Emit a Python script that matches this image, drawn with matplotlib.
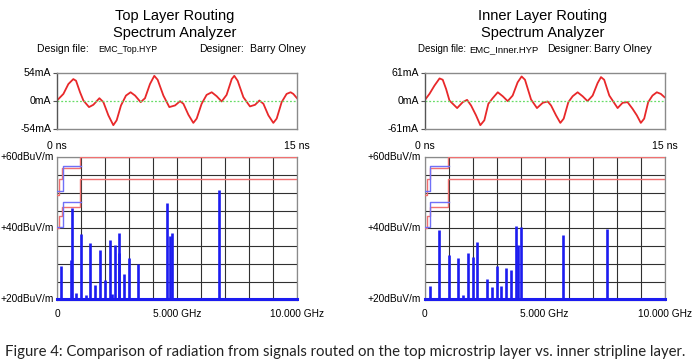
import matplotlib
matplotlib.use("Agg")
import matplotlib.pyplot as plt
import numpy as np

# ---------------- data ----------------
top_t = [0, 0.40, 0.71, 1.02, 1.19, 1.44, 1.65, 2.00, 2.27, 2.65, 2.90, 3.21, 3.52, 3.73, 4.00,
         4.31, 4.60, 4.88, 5.23, 5.50, 5.81, 6.08, 6.29, 6.65, 7.02, 7.38, 7.69, 7.90, 8.21,
         8.52, 8.73, 9.04, 9.35, 9.67, 9.98, 10.29, 10.60, 10.92, 11.08, 11.29, 11.65, 12.06,
         12.38, 12.65, 12.90, 13.21, 13.52, 13.73, 14.04, 14.35, 14.60, 14.77, 15.0]
top_i = [0, 12.7, 31.7, 41.3, 38.1, 15.9, 0, -12.7, -8.3, 4.4, -3.2, -28.6, -47.6, -38.1, -9.5,
         9.5, 15.9, 9.5, -3.2, 4.4, 31.7, 47.6, 40.0, 9.5, -12.7, -9.5, -1.3, -6.3, -27.3,
         -43.2, -34.9, -6.3, 10.8, 15.9, 8.3, -1.9, 10.8, 41.3, 47.6, 38.1, 6.3, -11.4,
         -8.3, 0, -6.3, -28.6, -43.2, -34.9, -3.2, 12.7, 15.9, 12.7, 4.4]

inner_t = [0, 0.31, 0.62, 0.94, 1.14, 1.35, 1.56, 2.04, 2.39, 2.66, 2.91, 3.22, 3.49, 3.74, 3.99,
           4.26, 4.58, 4.89, 5.20, 5.51, 5.82, 6.07, 6.28, 6.66, 7.03, 7.39, 7.70, 7.91, 8.22,
           8.49, 8.70, 8.99, 9.26, 9.57, 9.88, 10.19, 10.51, 10.82, 11.03, 11.23, 11.55, 12.07,
           12.38, 12.69, 13.0, 13.27, 13.52, 13.73, 13.98, 14.25, 14.52, 14.77, 15.0]
inner_i = [0, 14.4, 32.3, 48.1, 45.2, 25.1, 0, -16.5, -3.6, 1.4, -10.8, -32.3, -53.8, -43.1, -7.2,
           5.0, 17.9, 9.3, -1.4, 10.8, 39.5, 52.4, 45.2, 2.2, -16.5, -5.0, -2.2, -10.8, -32.3,
           -48.8, -39.5, -3.6, 9.3, 17.9, 9.3, -1.4, 10.8, 38.0, 51.0, 45.2, 10.8, -16.5,
           -5.0, -3.6, -17.9, -32.3, -48.8, -39.5, -3.6, 10.8, 17.9, 14.4, 7.2]

top_f = [0.18, 0.57, 0.61, 0.79, 0.99, 1.20, 1.39, 1.59, 1.78, 1.99, 2.19, 2.30, 2.40, 2.57,
         2.59, 2.79, 2.99, 3.38, 4.58, 4.69, 4.78, 6.77]
top_db = [29.3, 31.1, 45.8, 21.8, 38.5, 21.4, 35.8, 24.2, 34.0, 25.5, 36.6, 21.6, 35.4, 33.2,
          38.8, 27.2, 31.6, 29.9, 47.2, 37.8, 38.6, 50.9]

inner_f = [0.22, 0.61, 1.01, 1.41, 1.61, 1.80, 2.00, 2.19, 2.61, 2.80, 3.01, 3.20, 3.40, 3.61,
           3.80, 3.88, 4.01, 5.77, 7.59]
inner_db = [23.9, 39.6, 32.5, 31.6, 21.3, 33.1, 31.9, 36.3, 25.8, 23.5, 29.5, 23.7, 29.0, 28.2,
            40.8, 35.2, 40.4, 38.2, 39.9]

# limit lines (GHz, dBuV/m)
lim_f = [0.0, 0.088, 0.088, 0.216, 0.216, 0.96, 0.96, 10.0]
fcc_a = [49.5, 49.5, 54.0, 54.0, 56.9, 56.9, 60.0, 60.0]
fcc_b = [40.0, 40.0, 43.5, 43.5, 46.0, 46.0, 54.0, 54.0]
cis_f = [0.0, 0.23, 0.23, 1.0]
cis_a = [50.5, 50.5, 57.5, 57.5]
cis_b = [40.5, 40.5, 47.5, 47.5]

panels = [
    dict(title="Top Layer Routing", t=top_t, i=top_i, imax=54, f=top_f, db=top_db,
         x0=57, design="EMC_Top.HYP"),
    dict(title="Inner Layer Routing", t=inner_t, i=inner_i, imax=61, f=inner_f, db=inner_db,
         x0=424.5, design="EMC_Inner.HYP"),
]

W, H = 700, 363
fig = plt.figure(figsize=(7.0, 3.63), dpi=100)
plt.rcParams['font.family'] = ['Liberation Sans', 'DejaVu Sans']

def ax_px(x, y, w, h):
    return fig.add_axes([x / W, 1 - (y + h) / H, w / W, h / H])

RED = '#e8282a'
BLUE = '#1c1cf0'
GRAY = '#8a8a8a'

for k, p in enumerate(panels):
    x0 = p['x0']
    pw = 240
    cx = x0 + pw / 2 - 2
    # titles
    fig.text(cx / W, 1 - 16 / H, p['title'], ha='center', va='center', fontsize=10.5)
    fig.text(cx / W, 1 - 33 / H, "Spectrum Analyzer", ha='center', va='center', fontsize=10.5)
    if k == 0:
        fig.text(37 / W, 1 - 49.5 / H, "Design file:", ha='left', va='center', fontsize=7.5)
        fig.text(98 / W, 1 - 49.5 / H, p['design'], ha='left', va='center', fontsize=6.3)
        fig.text(199 / W, 1 - 49.5 / H, "Designer:", ha='left', va='center', fontsize=7.5)
        fig.text(250 / W, 1 - 49.5 / H, "Barry Olney", ha='left', va='center', fontsize=7.6)
    else:
        fig.text(418 / W, 1 - 49.5 / H, "Design file:", ha='left', va='center', fontsize=7.0)
        fig.text(469 / W, 1 - 49.5 / H, p['design'], ha='left', va='center', fontsize=6.8)
        fig.text(547 / W, 1 - 49.5 / H, "Designer:", ha='left', va='center', fontsize=7.5)
        fig.text(594 / W, 1 - 49.5 / H, "Barry Olney", ha='left', va='center', fontsize=7.8)

    # time domain
    at = ax_px(x0, 72.5, pw, 56)
    at.plot(p['t'], p['i'], color=RED, lw=1.3)
    at.axhline(0, color='#66dd66', lw=0.9, ls=(0, (1.5, 1.5)))
    at.set_xlim(0, 15)
    at.set_ylim(-p['imax'], p['imax'])
    at.set_yticks([p['imax'], 0, -p['imax']])
    at.set_yticklabels([f"{p['imax']}mA", "0mA", f"-{p['imax']}mA"], fontsize=7.6)
    at.set_xticks([])
    for s in at.spines.values():
        s.set_color(GRAY)
        s.set_linewidth(1.0)
    at.spines['left'].set_color('#555555')
    at.tick_params(axis='y', length=3, width=0.8, color='#555555', pad=1)
    at.text(0, -0.22, "0 ns", transform=at.transAxes, ha='center', va='top', fontsize=7.6)
    at.text(1, -0.22, "15 ns", transform=at.transAxes, ha='center', va='top', fontsize=7.6)

    # spectrum
    asp = ax_px(x0, 157.3, pw, 142.2)
    asp.set_xlim(0, 10)
    asp.set_ylim(20, 60)
    asp.set_xticks(np.arange(0, 11, 1))
    asp.set_yticks(np.arange(20, 61, 5))
    asp.grid(True, color='#303030', lw=0.8)
    asp.set_axisbelow(True)
    asp.tick_params(axis='both', length=0, labelbottom=False, labelleft=False)
    for s in asp.spines.values():
        s.set_color(GRAY)
        s.set_linewidth(0.9)
    asp.plot(lim_f, fcc_a, color='#f07070', lw=1.0, zorder=3)
    asp.plot(lim_f, fcc_b, color='#f07070', lw=1.0, zorder=3)
    asp.plot(cis_f, cis_a, color='#7070f8', lw=1.0, zorder=3)
    asp.plot(cis_f, cis_b, color='#7070f8', lw=1.0, zorder=3)
    asp.vlines(p['f'], 20, p['db'], color=BLUE, lw=1.9, zorder=4)
    asp.axhline(20.25, color=BLUE, lw=2.2, zorder=4, clip_on=False)
    for v in (60, 40, 20):
        asp.text(-0.015, (v - 20) / 40, f"+{v}dBuV/m", transform=asp.transAxes,
                 ha='right', va='center', fontsize=7.3)
    for xf, lab in ((0, "0"), (0.5, "5.000 GHz"), (1.0, "10.000 GHz")):
        asp.text(xf, -0.07, lab, transform=asp.transAxes, ha='center', va='top', fontsize=7.3)

fig.text(5 / W, 1 - 352 / H, "Figure 4: Comparison of radiation from signals routed on the top "
         "microstrip layer vs. inner stripline layer.", ha='left', va='center',
         fontsize=10.7, family=['Lato', 'DejaVu Sans'], color='#222222')

fig.savefig("out.png", dpi=100, facecolor='white')
